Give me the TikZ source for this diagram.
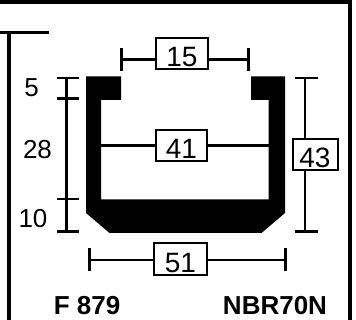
\documentclass[tikz,border=0pt]{standalone}
\usepackage{fontspec}
\setmainfont{Liberation Sans}
\tikzset{
  x=1pt,y=-1pt,
  frameline/.style={line width=3.6pt,line cap=butt},
  dimline/.style={line width=2.9pt},
  dimbox/.style={draw,line width=2pt,fill=white,inner sep=0pt,text depth=0pt,font=\fontsize{28}{28}\selectfont,anchor=center},
  dimtext/.style={inner sep=0pt,font=\fontsize{26}{26}\selectfont,anchor=center},
  titletext/.style={inner sep=0pt,font=\fontsize{26}{26}\selectfont\bfseries,anchor=center}
}
\begin{document}
\begin{tikzpicture}
\useasboundingbox (0,0) rectangle (356,320);
% frame
\draw[frameline] (0,2) -- (351.8,2);
\draw[frameline] (350,0.2) -- (350,320);
\draw[frameline] (0,32.5) -- (49,32.5);
\draw[frameline] (9,32.5) -- (9,320);
% profile
\fill[black] (86,76.5) -- (121,76.5) -- (121,100) -- (101,100) -- (101,199.5)
  -- (268.5,199.5) -- (268.5,100) -- (251,100) -- (251,76.5) -- (285,76.5)
  -- (285,213) -- (261.5,233) -- (109.5,233) -- (86,213) -- cycle;
% tick coordinates
\coordinate (lt) at (66.5,78);
\coordinate (lb) at (66.5,231.5);
\coordinate (l5) at (66.5,98.5);
\coordinate (l10) at (66.5,199);
\coordinate (t15a) at (121.5,59.3);
\coordinate (t15b) at (248.5,59.3);
\coordinate (w41a) at (101,145.7);
\coordinate (w41b) at (268.5,145.7);
\coordinate (r43a) at (305,78);
\coordinate (r43b) at (305,231.5);
\coordinate (b51a) at (89.5,260);
\coordinate (b51b) at (285.5,260);
% boxes
\node[dimbox,text height=26.6pt,minimum width=52pt,minimum height=31.5pt] (d15) at (182,53.4) {15};
\node[dimbox,text height=25.6pt,minimum width=51.5pt,minimum height=30.5pt] (d41) at (181.5,145.5) {41};
\node[dimbox,text height=26.6pt,minimum width=45pt,minimum height=31pt] (d43) at (315,154.7) {43};
\node[dimbox,text height=27.6pt,minimum width=52.5pt,minimum height=32pt] (d51) at (180.5,258.7) {51};
% dimension lines
\draw[dimline] (lt) -- (lb);
\foreach \c in {lt,lb,l5,l10} \draw[dimline] ([xshift=-10pt]\c) -- ([xshift=12.5pt]\c);
\draw[dimline] (t15a) -- (t15a -| d15.west);
\draw[dimline] (t15b) -- (t15b -| d15.east);
\draw[dimline] ([yshift=-11.5pt]t15a) -- ([yshift=11.5pt]t15a);
\draw[dimline] ([yshift=-11.5pt]t15b) -- ([yshift=11.5pt]t15b);
\draw[dimline] (w41a) -- (w41a -| d41.west);
\draw[dimline] (w41b) -- (w41b -| d41.east);
\draw[dimline] (r43a) -- (r43a |- d43.north);
\draw[dimline] (r43b) -- (r43b |- d43.south);
\draw[dimline] ([xshift=-10.5pt]r43a) -- ([xshift=12.5pt]r43a);
\draw[dimline] ([xshift=-10.5pt]r43b) -- ([xshift=12.5pt]r43b);
\draw[dimline] (b51a) -- (b51a -| d51.west);
\draw[dimline] (b51b) -- (b51b -| d51.east);
\draw[dimline] ([yshift=-11.5pt]b51a) -- ([yshift=11.5pt]b51a);
\draw[dimline] ([yshift=-11.5pt]b51b) -- ([yshift=11.5pt]b51b);
% labels
\node[dimtext] (n5) at (31.5,88) {5};
\node[dimtext] (n28) at (37.5,150) {28};
\node[dimtext] (n10) at (33,219) {10};
\node[titletext] (code) at (87,305.5) {F 879};
\node[titletext] (mat) at (275,305.5) {NBR70N};
\end{tikzpicture}
\end{document}
